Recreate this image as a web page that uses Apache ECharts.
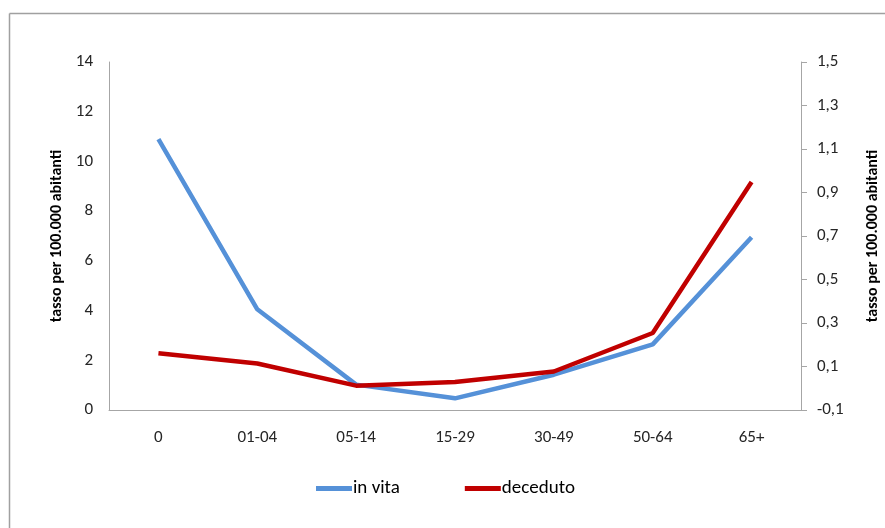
<!DOCTYPE html>
<html>
<head>
<meta charset="utf-8">
<script src="https://cdn.jsdelivr.net/npm/echarts@6/dist/echarts.min.js"></script>
<style>
  html, body { margin: 0; padding: 0; background: #fff; }
  #chart { width: 885px; height: 528px; }
</style>
</head>
<body>
<div id="chart"></div>
<script>
// Age groups on the category axis
const categories = ['0', '01-04', '05-14', '15-29', '30-49', '50-64', '65+'];
// Rate per 100,000 inhabitants, left axis
const inVita = [10.9, 4.05, 1.02, 0.47, 1.42, 2.64, 6.95];
// Rate per 100,000 inhabitants, right axis
const deceduto = [0.161, 0.114, 0.012, 0.029, 0.077, 0.254, 0.948];

const leftTicks = { min: 0, max: 14, interval: 2 };
const rightTicks = { min: -0.1, max: 1.5, interval: 0.2 };

const FONT = 'Carlito, Lato, "Liberation Sans", sans-serif';
const BLUE = '#5591d8';
const RED = '#c00000';
const AXIS_GREY = '#a6a6a6';
const LABEL = '#262626';

const chart = echarts.init(document.getElementById('chart'), null, { renderer: 'canvas' });

chart.setOption({
  animation: false,
  backgroundColor: '#ffffff',
  textStyle: { fontFamily: FONT },
  graphic: [
    { type: 'line', shape: { x1: 9.5, y1: 13.5, x2: 885, y2: 13.5 }, style: { stroke: '#a0a0a0', lineWidth: 1.5 } },
    { type: 'line', shape: { x1: 9.5, y1: 13.5, x2: 9.5, y2: 528 }, style: { stroke: '#a0a0a0', lineWidth: 1.5 } }
  ],
  grid: {
    left: 109, right: 84, top: 62, bottom: 118,
    containLabel: false,
    outerBoundsMode: 'none'
  },
  legend: {
    bottom: 25,
    left: 311,
    itemWidth: 36,
    itemHeight: 5,
    itemGap: 65,
    icon: 'rect',
    textStyle: { fontFamily: FONT, fontSize: 19, color: '#000', padding: [0, 0, 0, -4] },
    data: ['in vita', 'deceduto']
  },
  xAxis: {
    type: 'category',
    data: categories,
    boundaryGap: true,
    axisLine: { lineStyle: { color: AXIS_GREY, width: 1 } },
    axisTick: { show: false },
    axisLabel: { fontFamily: FONT, fontSize: 17, color: LABEL, margin: 19 },
    splitLine: { show: false }
  },
  yAxis: [
    {
      type: 'value',
      position: 'left',
      min: leftTicks.min,
      max: leftTicks.max,
      interval: leftTicks.interval,
      name: 'tasso per 100.000 abitanti',
      nameLocation: 'middle',
      nameGap: 43,
      nameRotate: 90,
      nameTextStyle: { fontFamily: FONT, fontSize: 16, fontWeight: 'bold', color: '#000' },
      axisLine: { show: true, lineStyle: { color: AXIS_GREY } },
      axisTick: { show: false },
      axisLabel: { fontFamily: FONT, fontSize: 17, color: LABEL, margin: 16 },
      splitLine: { show: false }
    },
    {
      type: 'value',
      position: 'right',
      min: rightTicks.min,
      max: rightTicks.max,
      interval: rightTicks.interval,
      name: 'tasso per 100.000 abitanti',
      nameLocation: 'middle',
      nameGap: 64,
      nameRotate: 90,
      nameTextStyle: { fontFamily: FONT, fontSize: 16, fontWeight: 'bold', color: '#000' },
      axisLine: { show: true, lineStyle: { color: AXIS_GREY } },
      axisTick: { show: true, inside: false, length: 6, lineStyle: { color: AXIS_GREY } },
      axisLabel: {
        fontFamily: FONT, fontSize: 17, color: LABEL, margin: 16,
        formatter: v => (Math.round(v * 10) / 10).toFixed(1).replace('.', ',')
      },
      splitLine: { show: false }
    }
  ],
  series: [
    {
      name: 'in vita',
      type: 'line',
      yAxisIndex: 0,
      data: inVita,
      symbol: 'none',
      lineStyle: { color: BLUE, width: 4.5 },
      itemStyle: { color: BLUE }
    },
    {
      name: 'deceduto',
      type: 'line',
      yAxisIndex: 1,
      data: deceduto,
      symbol: 'none',
      lineStyle: { color: RED, width: 4.5 },
      itemStyle: { color: RED }
    }
  ]
});
</script>
</body>
</html>
